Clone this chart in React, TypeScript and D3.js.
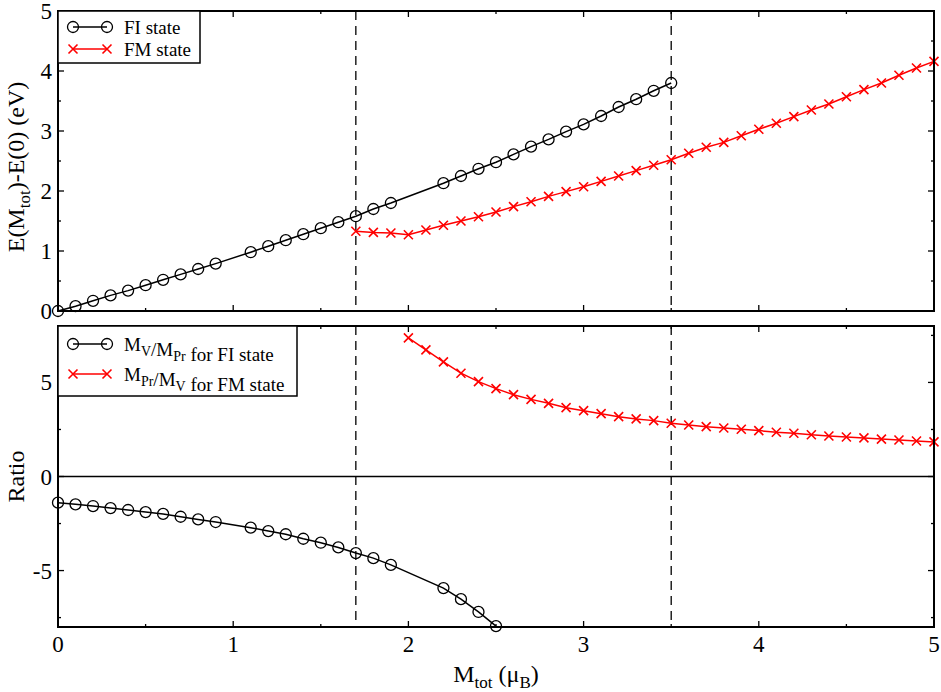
import { useEffect, useRef } from 'react'
import * as d3 from 'd3'

// x grid for all series
const fiX = [0, 0.1, 0.2, 0.3, 0.4, 0.5, 0.6, 0.7, 0.8, 0.9, 1.1, 1.2, 1.3, 1.4, 1.5, 1.6, 1.7, 1.8, 1.9,
  2.2, 2.3, 2.4, 2.5, 2.6, 2.7, 2.8, 2.9, 3.0, 3.1, 3.2, 3.3, 3.4, 3.5]
const fiEnergy = [0, 0.08, 0.17, 0.26, 0.34, 0.43, 0.52, 0.61, 0.7, 0.79, 0.98, 1.08, 1.18, 1.28, 1.38, 1.48, 1.58, 1.7, 1.8,
  2.13, 2.25, 2.37, 2.48, 2.61, 2.74, 2.86, 2.99, 3.11, 3.25, 3.4, 3.53, 3.67, 3.8]

const fmX = [1.7, 1.8, 1.9, 2.0, 2.1, 2.2, 2.3, 2.4, 2.5, 2.6, 2.7, 2.8, 2.9, 3.0, 3.1, 3.2, 3.3, 3.4, 3.5,
  3.6, 3.7, 3.8, 3.9, 4.0, 4.1, 4.2, 4.3, 4.4, 4.5, 4.6, 4.7, 4.8, 4.9, 5.0]
const fmEnergy = [1.33, 1.31, 1.3, 1.27, 1.35, 1.43, 1.5, 1.57, 1.65, 1.74, 1.82, 1.91, 1.99, 2.07, 2.16, 2.25, 2.34, 2.43, 2.52,
  2.63, 2.73, 2.81, 2.92, 3.03, 3.13, 3.24, 3.35, 3.45, 3.57, 3.69, 3.8, 3.93, 4.05, 4.16]

const fiRatioX = [0, 0.1, 0.2, 0.3, 0.4, 0.5, 0.6, 0.7, 0.8, 0.9, 1.1, 1.2, 1.3, 1.4, 1.5, 1.6, 1.7, 1.8, 1.9, 2.2, 2.3, 2.4, 2.5]
const fiRatio = [-1.39, -1.48, -1.57, -1.68, -1.78, -1.89, -1.99, -2.14, -2.28, -2.42, -2.72, -2.9, -3.07, -3.31, -3.52, -3.77,
  -4.07, -4.34, -4.7, -5.93, -6.52, -7.2, -7.95]

const fmRatioX = [2.0, 2.1, 2.2, 2.3, 2.4, 2.5, 2.6, 2.7, 2.8, 2.9, 3.0, 3.1, 3.2, 3.3, 3.4, 3.5,
  3.6, 3.7, 3.8, 3.9, 4.0, 4.1, 4.2, 4.3, 4.4, 4.5, 4.6, 4.7, 4.8, 4.9, 5.0]
const fmRatio = [7.37, 6.73, 6.09, 5.49, 5.04, 4.67, 4.35, 4.1, 3.89, 3.66, 3.5, 3.34, 3.18, 3.06, 2.97, 2.83,
  2.74, 2.65, 2.58, 2.51, 2.44, 2.35, 2.3, 2.22, 2.15, 2.1, 2.05, 1.99, 1.94, 1.89, 1.84]

const xTicks = [0, 1, 2, 3, 4, 5]
const topTicks = [0, 1, 2, 3, 4, 5]
const bottomTicks = [-5, 0, 5]
const dashedAt = [1.7, 3.5]

const FONT = '"Liberation Serif", "DejaVu Serif", serif'

export default function App() {
  const svgRef = useRef<SVGSVGElement>(null)

  useEffect(() => {
    if (!svgRef.current) return
    const svg = d3.select(svgRef.current)
    svg.selectAll('*').remove()

    const left = 58, right = 934
    const top1 = 11, bot1 = 311
    const top2 = 326, bot2 = 627

    const x = d3.scaleLinear().domain([0, 5]).range([left, right])
    const y1 = d3.scaleLinear().domain([0, 5]).range([bot1, top1])
    const y2 = d3.scaleLinear().domain([-8, 8]).range([bot2, top2])

    const drawFrame = (y: d3.ScaleLinear<number, number>, top: number, bot: number,
      majors: number[], minors: number[], xLabels: boolean) => {
      const g = svg.append('g')
      // x ticks (bottom and top, inward)
      d3.range(0, 5.01, 0.5).forEach(v => {
        const major = Math.abs(v - Math.round(v)) < 1e-6
        const len = major ? 6 : 3
        g.append('line').attr('x1', x(v)).attr('x2', x(v)).attr('y1', bot).attr('y2', bot - len)
          .attr('stroke', '#000').attr('stroke-width', 1.3)
        g.append('line').attr('x1', x(v)).attr('x2', x(v)).attr('y1', top).attr('y2', top + len)
          .attr('stroke', '#000').attr('stroke-width', 1.3)
      })
      const yt = [...majors.map(v => ({ v, len: 6 })), ...minors.map(v => ({ v, len: 3 }))]
      yt.forEach(t => {
        g.append('line').attr('x1', left).attr('x2', left + t.len).attr('y1', y(t.v)).attr('y2', y(t.v))
          .attr('stroke', '#000').attr('stroke-width', 1.3)
        g.append('line').attr('x1', right).attr('x2', right - t.len).attr('y1', y(t.v)).attr('y2', y(t.v))
          .attr('stroke', '#000').attr('stroke-width', 1.3)
      })
      majors.forEach(v => {
        g.append('text').attr('x', left - 6).attr('y', y(v)).attr('dy', '0.35em')
          .attr('text-anchor', 'end').style('font-family', FONT).style('font-size', '23px')
          .text(v < 0 ? `-${Math.abs(v)}` : `${v}`)
      })
      if (xLabels) {
        xTicks.forEach(v => {
          g.append('text').attr('x', x(v)).attr('y', bot + 25)
            .attr('text-anchor', 'middle').style('font-family', FONT).style('font-size', '23px')
            .text(v)
        })
      }
      g.append('rect').attr('x', left).attr('y', top).attr('width', right - left).attr('height', bot - top)
        .attr('fill', 'none').attr('stroke', '#000').attr('stroke-width', 2)
    }

    // dashed verticals
    dashedAt.forEach(v => {
      svg.append('line').attr('x1', x(v)).attr('x2', x(v)).attr('y1', top1).attr('y2', bot1)
        .attr('stroke', '#000').attr('stroke-width', 1.3).attr('stroke-dasharray', '9,6')
      svg.append('line').attr('x1', x(v)).attr('x2', x(v)).attr('y1', top2).attr('y2', bot2)
        .attr('stroke', '#000').attr('stroke-width', 1.3).attr('stroke-dasharray', '9,6')
    })
    // zero line bottom panel
    svg.append('line').attr('x1', left).attr('x2', right).attr('y1', y2(0)).attr('y2', y2(0))
      .attr('stroke', '#000').attr('stroke-width', 1.3)

    const drawMarker = (sel: any, cx: number, cy: number, kind: 'circle' | 'cross') => {
      if (kind === 'circle') {
        sel.append('circle').attr('cx', cx).attr('cy', cy).attr('r', 5.5)
          .attr('fill', 'none').attr('stroke', '#000').attr('stroke-width', 1.3)
      } else {
        const s = 4.5
        sel.append('path').attr('d', `M${cx - s},${cy - s}L${cx + s},${cy + s}M${cx - s},${cy + s}L${cx + s},${cy - s}`)
          .attr('stroke', '#ff0000').attr('stroke-width', 1.6).attr('fill', 'none')
      }
    }

    const drawSeries = (xs: number[], ys: number[], y: d3.ScaleLinear<number, number>, kind: 'circle' | 'cross') => {
      const color = kind === 'circle' ? '#000' : '#ff0000'
      const pts = xs.map((v, i) => [x(v), y(ys[i])] as [number, number])
      svg.append('path').attr('d', d3.line()(pts)).attr('fill', 'none')
        .attr('stroke', color).attr('stroke-width', 1.5)
      pts.forEach(p => drawMarker(svg, p[0], p[1], kind))
    }

    drawSeries(fiX, fiEnergy, y1, 'circle')
    drawSeries(fmX, fmEnergy, y1, 'cross')
    drawSeries(fiRatioX, fiRatio, y2, 'circle')
    drawSeries(fmRatioX, fmRatio, y2, 'cross')

    drawFrame(y1, top1, bot1, topTicks, d3.range(0.5, 5, 1), false)
    drawFrame(y2, top2, bot2, bottomTicks, [-7.5, -2.5, 2.5, 7.5], true)

    // legends
    const legend = (x0: number, y0: number, w: number, h: number, rows: { kind: 'circle' | 'cross', label: (t: any) => void }[], rowYs: number[]) => {
      const g = svg.append('g')
      g.append('rect').attr('x', x0).attr('y', y0).attr('width', w).attr('height', h)
        .attr('fill', '#fff').attr('stroke', '#000').attr('stroke-width', 1.5)
      rows.forEach((r, i) => {
        const ry = rowYs[i]
        const color = r.kind === 'circle' ? '#000' : '#ff0000'
        g.append('line').attr('x1', 73).attr('x2', 107).attr('y1', ry).attr('y2', ry)
          .attr('stroke', color).attr('stroke-width', 1.5)
        drawMarker(g, 73, ry, r.kind)
        drawMarker(g, 107, ry, r.kind)
        const t = g.append('text').attr('x', 124).attr('y', ry).attr('dy', '0.35em')
          .style('font-family', FONT).style('font-size', '19px')
        r.label(t)
      })
    }

    legend(left, top1, 142, 52, [
      { kind: 'circle', label: t => t.text('FI state') },
      { kind: 'cross', label: t => t.text('FM state') },
    ], [27, 49])

    const sub = (t: any, base: string, s: string) => {
      t.append('tspan').text(base)
      t.append('tspan').attr('dy', 5).style('font-size', '14px').text(s)
      t.append('tspan').attr('dy', -5).text('')
    }
    legend(left, top2, 239, 70, [
      {
        kind: 'circle', label: t => {
          sub(t, 'M', 'V'); t.append('tspan').text('/'); sub(t, 'M', 'Pr'); t.append('tspan').text(' for FI state')
        }
      },
      {
        kind: 'cross', label: t => {
          sub(t, 'M', 'Pr'); t.append('tspan').text('/'); sub(t, 'M', 'V'); t.append('tspan').text(' for FM state')
        }
      },
    ], [344, 374])

    // axis titles
    const yt1 = svg.append('text').attr('transform', `translate(24,${(top1 + bot1) / 2 + 6}) rotate(-90)`)
      .attr('text-anchor', 'middle').style('font-family', FONT).style('font-size', '24px')
    yt1.append('tspan').text('E(M')
    yt1.append('tspan').attr('dy', 6).style('font-size', '17px').text('tot')
    yt1.append('tspan').attr('dy', -6).text(')-E(0) (eV)')

    svg.append('text').attr('transform', `translate(24,${y2(0)}) rotate(-90)`)
      .attr('text-anchor', 'middle').style('font-family', FONT).style('font-size', '24px').text('Ratio')

    const xt = svg.append('text').attr('x', (left + right) / 2).attr('y', 682)
      .attr('text-anchor', 'middle').style('font-family', FONT).style('font-size', '24px')
    xt.append('tspan').text('M')
    xt.append('tspan').attr('dy', 6).style('font-size', '17px').text('tot')
    xt.append('tspan').attr('dy', -6).text(' (\u03bc')
    xt.append('tspan').attr('dy', 6).style('font-size', '17px').text('B')
    xt.append('tspan').attr('dy', -6).text(')')
  }, [])

  return (
    <svg ref={svgRef} width={941} height={692}
      style={{ position: 'absolute', left: 0, top: 0, background: '#fff' }} />
  )
}
